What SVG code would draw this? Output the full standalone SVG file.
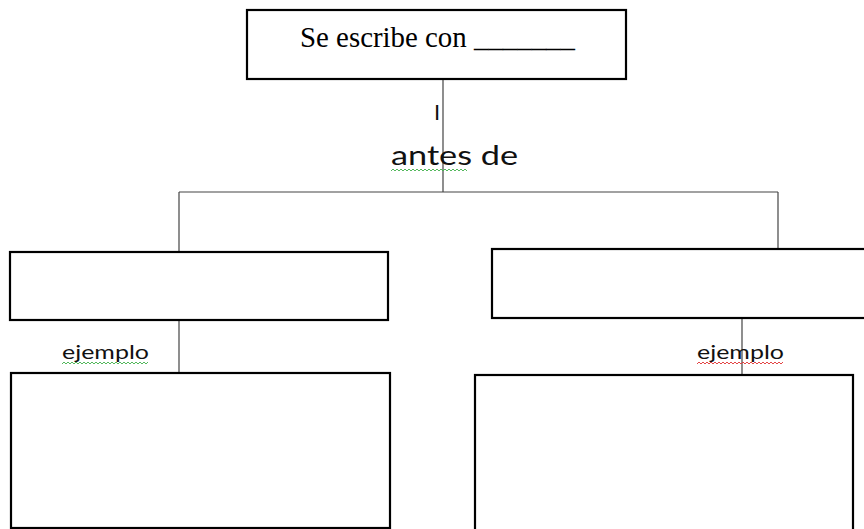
<svg xmlns="http://www.w3.org/2000/svg" width="864" height="529" viewBox="0 0 864 529">
<style>
.box{fill:#fff;stroke:#000;stroke-width:2.2}
.ln{fill:none;stroke:#444;stroke-width:1.2}
.sans{font-family:"Lato","Liberation Sans",sans-serif;fill:#111}
.wg{fill:none;stroke:#3fb04a;stroke-width:0.9}
.wr{fill:none;stroke:#e03030;stroke-width:0.9}
</style>
<rect width="864" height="529" fill="#fff"/>
<g id="connectors">
<line class="ln" x1="443" y1="79" x2="443" y2="192"/>
<line class="ln" x1="179" y1="192" x2="778" y2="192"/>
<line class="ln" x1="179" y1="192" x2="179" y2="252"/>
<line class="ln" x1="778" y1="192" x2="778" y2="249"/>
<line class="ln" x1="179" y1="320" x2="179" y2="373"/>
<line class="ln" x1="742" y1="318" x2="742" y2="375"/>
</g>
<g id="top">
<rect class="box" x="247" y="10" width="379" height="69"/>
<text x="300" y="47" font-family="Liberation Serif,serif" font-size="29" fill="#000" textLength="275" lengthAdjust="spacingAndGlyphs">Se escribe con _______</text>
</g>
<g id="label-antes">
<text class="sans" x="437" y="120" font-size="22" text-anchor="middle">I</text>
<text class="sans" x="391" y="165" font-size="26" textLength="127" lengthAdjust="spacingAndGlyphs">antes de</text>
<polyline class="wg" points="391,171 393,169 395,171 397,169 399,171 401,169 403,171 405,169 407,171 409,169 411,171 413,169 415,171 417,169 419,171 421,169 423,171 425,169 427,171 429,169 431,171 433,169 435,171 437,169 439,171 441,169 443,171 445,169 447,171 449,169 451,171 453,169 455,171 457,169 459,171 461,169 463,171 465,169 467,171"/>
</g>
<g id="mid-left"><rect class="box" x="10" y="252" width="378" height="68"/></g>
<g id="mid-right"><rect class="box" x="492" y="249" width="374" height="69"/></g>
<g id="ejemplo-left">
<text class="sans" x="62" y="359" font-size="19" textLength="87" lengthAdjust="spacingAndGlyphs">ejemplo</text>
<polyline class="wg" points="62,364 64,362 66,364 68,362 70,364 72,362 74,364 76,362 78,364 80,362 82,364 84,362 86,364 88,362 90,364 92,362 94,364 96,362 98,364 100,362 102,364 104,362 106,364 108,362 110,364 112,362 114,364 116,362 118,364 120,362 122,364 124,362 126,364 128,362 130,364 132,362 134,364 136,362 138,364 140,362 142,364 144,362 146,364 148,362"/>
</g>
<g id="ejemplo-right">
<text class="sans" x="697" y="359" font-size="19" textLength="87" lengthAdjust="spacingAndGlyphs">ejemplo</text>
<polyline class="wr" points="697,364 699,362 701,364 703,362 705,364 707,362 709,364 711,362 713,364 715,362 717,364 719,362 721,364 723,362 725,364 727,362 729,364 731,362 733,364 735,362 737,364 739,362 741,364 743,362 745,364 747,362 749,364 751,362 753,364 755,362 757,364 759,362 761,364 763,362 765,364 767,362 769,364 771,362 773,364 775,362 777,364 779,362 781,364 783,362"/>
</g>
<g id="bottom-left"><rect class="box" x="11" y="373" width="379" height="155"/></g>
<g id="bottom-right"><rect class="box" x="475" y="375" width="378" height="156"/></g>
</svg>
